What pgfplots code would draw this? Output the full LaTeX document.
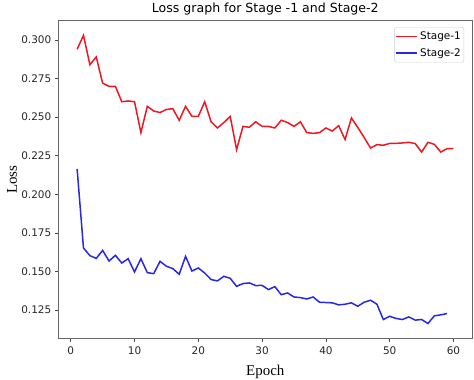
\documentclass[border=0pt]{standalone}
\usepackage{fontspec}
\setmainfont{DejaVu Sans}
\newfontfamily\serifont{Liberation Serif}
\usepackage{pgfplots}
\pgfplotsset{compat=1.18}
\definecolor{lred}{RGB}{235,25,35}
\definecolor{lblue}{RGB}{40,40,225}
\begin{document}
\begin{tikzpicture}
\begin{axis}[
  scale only axis,
  width=414bp, height=317.8bp,
  xmin=-1.95, xmax=62.95, ymin=0.1066, ymax=0.3125,
  xtick={0,10,20,30,40,50,60},
  ytick={0.125,0.150,0.175,0.200,0.225,0.250,0.275,0.300},
  scaled y ticks=false,
  yticklabel style={/pgf/number format/.cd, fixed, fixed zerofill, precision=3},
  xticklabel style={yshift=-1.5bp},
  /pgf/number format/assume math mode=true,
  tick label style={font=\fontsize{10.5}{12}\selectfont, text=black!85},
  xtick pos=bottom, ytick pos=left,
  tick align=outside, major tick length=3.5bp,
  tick style={black!70, line width=0.8bp},
  axis line style={black!60, line width=1bp},
  title={Loss graph for Stage -1 and Stage-2},
  every axis title/.style={font=\fontsize{12.6}{14}\selectfont, at={(0.5,1)}, anchor=base, yshift=7.8bp},
  xlabel={Epoch}, ylabel={Loss},
  xlabel style={font=\serifont\fontsize{15}{17}\selectfont, at={(axis description cs:0.5,0)}, anchor=base, yshift=-36.5bp},
  ylabel style={font=\serifont\fontsize{15}{17}\selectfont, at={(axis description cs:-0.0998,0.5)}, anchor=base},
  legend style={at={(0.98,0.98)}, anchor=north east, font=\fontsize{10.5}{12}\selectfont, draw=black!20, rounded corners=2bp, inner xsep=1bp, inner ysep=2.5bp, row sep=3.5bp},
  legend cell align=left,
  legend image code/.code={\draw[#1] (0bp,0bp) -- (21bp,0bp);},
]
\addplot[lred, line width=1.5bp] coordinates {
(1,0.294) (2,0.303) (3,0.284) (4,0.289) (5,0.272) (6,0.270) (7,0.270) (8,0.260) (9,0.2605) (10,0.260)
(11,0.240) (12,0.257) (13,0.254) (14,0.253) (15,0.255) (16,0.2555) (17,0.248) (18,0.257) (19,0.2505) (20,0.2505)
(21,0.260) (22,0.247) (23,0.243) (24,0.2465) (25,0.2505) (26,0.229) (27,0.244) (28,0.2435) (29,0.247) (30,0.244)
(31,0.244) (32,0.243) (33,0.248) (34,0.2465) (35,0.244) (36,0.247) (37,0.240) (38,0.2395) (39,0.240) (40,0.243)
(41,0.241) (42,0.2445) (43,0.2355) (44,0.2495) (45,0.2433) (46,0.2368) (47,0.2300) (48,0.2322) (49,0.2318) (50,0.2330)
(51,0.2330) (52,0.2333) (53,0.2337) (54,0.2329) (55,0.2274) (56,0.2337) (57,0.2324) (58,0.2274) (59,0.2296) (60,0.2296)
};
\addlegendentry{Stage-1}
\addplot[lblue, line width=1.5bp] coordinates {
(1,0.2165) (2,0.1652) (3,0.1603) (4,0.1585) (5,0.1637) (6,0.1568) (7,0.1605) (8,0.1555) (9,0.1583) (10,0.1497)
(11,0.1583) (12,0.1493) (13,0.1486) (14,0.1566) (15,0.1534) (16,0.1519) (17,0.1482) (18,0.1598) (19,0.1503) (20,0.1523)
(21,0.1490) (22,0.1448) (23,0.1439) (24,0.1469) (25,0.1456) (26,0.1404) (27,0.1422) (28,0.1426) (29,0.1409) (30,0.1410)
(31,0.1383) (32,0.1402) (33,0.1350) (34,0.1361) (35,0.1335) (36,0.1331) (37,0.1322) (38,0.1335) (39,0.1301) (40,0.1299)
(41,0.1297) (42,0.1284) (43,0.1288) (44,0.1297) (45,0.1275) (46,0.1301) (47,0.1314) (48,0.1288) (49,0.1189) (50,0.1210)
(51,0.1196) (52,0.1189) (53,0.1206) (54,0.1185) (55,0.1189) (56,0.1163) (57,0.1213) (58,0.1219) (59,0.1228)
};
\addlegendentry{Stage-2}
\end{axis}
\pgfresetboundingbox
\path[use as bounding box] (-58.3bp,-41.5bp) rectangle (415.7bp,338.5bp);
\end{tikzpicture}
\end{document}
